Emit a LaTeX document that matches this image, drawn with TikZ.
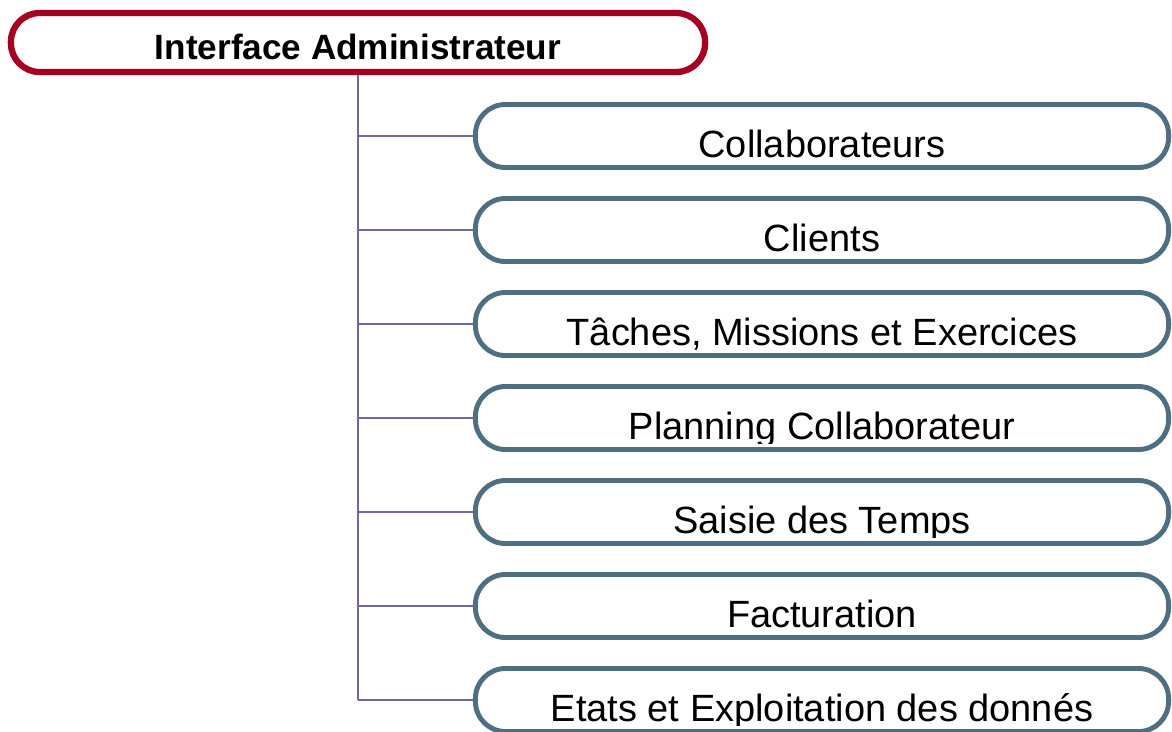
\documentclass[tikz,border=0pt]{standalone}
\usepackage{fontspec}
\setmainfont{Liberation Sans}
\usepackage{xcolor}
\definecolor{adminRed}{HTML}{A50021}
\definecolor{itemSlate}{HTML}{4E6E81}
\definecolor{linkPurple}{HTML}{7466A6}
\usetikzlibrary{positioning}

\begin{document}
\begin{tikzpicture}[x=0.025cm, y=-0.025cm,
  adminbox/.style={draw=adminRed, line width=4.5pt, rounded corners=0.72cm,
    minimum width=17.35cm, minimum height=1.475cm, inner sep=0pt,
    text height=0.85cm, text depth=0pt, font=\bfseries\fontsize{25}{30}\selectfont},
  itemtext/.style={draw=none, fill=none, text=black, anchor=base, inner sep=0pt,
    font=\fontsize{27}{30}\selectfont},
  itembox/.style={draw=itemSlate, line width=3.5pt, rounded corners=0.75cm,
    minimum width=17.325cm, minimum height=1.575cm, inner sep=0pt,
    path picture={
      \clip ([yshift=0.16cm]path picture bounding box.south west) rectangle (path picture bounding box.north east);
      \node[itemtext] at ([yshift=-0.53cm]path picture bounding box.center) {#1};}},
  link/.style={draw=linkPurple, line width=1.3pt}]
  \useasboundingbox (0,0) rectangle (1172,731);
  % Root
  \node[adminbox] (admin) at (358,42.5) {Interface Administrateur};
  % Menu entries
  \foreach \name/\txt [count=\i from 0] in {collab/Collaborateurs, clients/Clients,
      taches/{Tâches, Missions et Exercices}, planning/Planning Collaborateur,
      saisie/Saisie des Temps, factu/Facturation, etats/Etats et Exploitation des donnés} {
    \node[itembox=\txt] (\name) at (822,{136+94*\i}) {};
    \draw[link] (admin.south |- \name.west) -- (\name.west);
  }
  % Trunk
  \draw[link] (admin.south) -- (admin.south |- etats.west);
\end{tikzpicture}
\end{document}
